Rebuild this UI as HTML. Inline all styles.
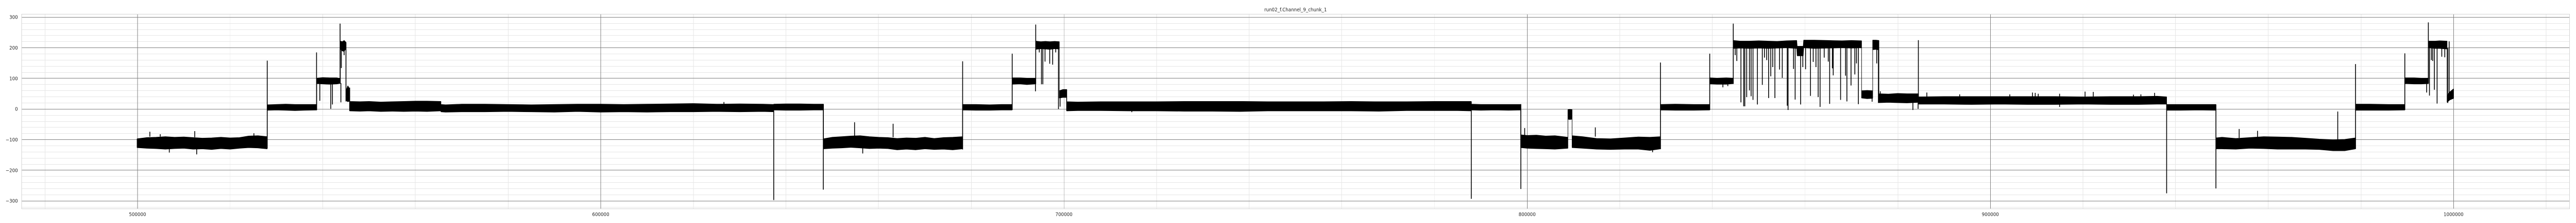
<!DOCTYPE html>
<html lang="en">
<head>
<meta charset="utf-8">
<title>run02_f.Channel_9_chunk_1</title>
<style>
html,body{margin:0;padding:0;background:#fff;width:100%;height:100%;overflow:hidden}
svg{display:block;width:100%;height:100%}
text{font-family:"DejaVu Sans","Liberation Sans",sans-serif;fill:#262626}
</style>
</head>
<body>
<svg id="chart" xmlns="http://www.w3.org/2000/svg" viewBox="0 0 5400 432" preserveAspectRatio="none">
  <rect x="0" y="0" width="5400" height="432" fill="#ffffff"/>
  <g id="grid-minor"></g>
  <g id="grid-major"></g>
  <g id="spines"></g>
  <g id="series"></g>
  <g id="y-labels"></g>
  <g id="x-labels"></g>
  <text x="2715.8" y="22" font-size="9.4" text-anchor="middle">run02_f.Channel_9_chunk_1</text>
</svg>
<script>
const xTicks = [500000, 600000, 700000, 800000, 900000, 1000000];
const xTickLabels = ['500000', '600000', '700000', '800000', '900000', '1000000'];
const xMinorTicks = [480000, 520000, 540000, 560000, 580000, 620000, 640000, 660000, 680000, 720000, 740000, 760000, 780000, 820000, 840000, 860000, 880000, 920000, 940000, 960000, 980000, 1020000];
const yTicks = [300, 200, 100, 0, -100, -200, -300];
const yTickLabels = ['300', '200', '100', '0', '\u2212100', '\u2212200', '\u2212300'];
const yMinorTicks = [280, 260, 240, 220, 180, 160, 140, 120, 80, 60, 40, 20, -20, -40, -60, -80, -120, -140, -160, -180, -220, -240, -260, -280, -320];

const sampleX = [
  499900,502000,504000,506000,508000,510000,512000,514000,516000,518000,520000,522000,524000,526000,528000,
  528000,530000,532000,534000,536000,538700,
  538700,540000,541500,543000,543800,
  543800,544200,544600,545000,
  545000,545400,545800,
  545800,548000,550000,552500,555000,557500,560000,562500,565500,
  565500,566500,570000,575000,580000,585000,590000,595000,600000,605000,610000,615000,620000,625000,630000,635000,637350,
  637350,640000,643000,646000,648100,
  648100,650000,652000,654000,656000,658000,660000,662000,664000,666000,668000,670000,672000,674000,676000,678100,
  678100,681000,684000,686500,688800,
  688800,690500,692000,693900,
  693900,695000,696000,697000,698000,699000,
  699000,699800,700600,
  700600,703000,708000,714000,720000,726000,732000,738000,744000,750000,756000,762000,768000,774000,780000,785000,787900,
  787900,790000,793000,796000,798600,
  798600,800000,802000,804000,806000,808800,
  808800,809200,809700,
  809700,812000,815000,818000,821000,824000,826500,828800,
  828800,832000,836000,839400,
  839400,841000,843000,844500,
  844500,846000,848000,850000,852000,854000,856000,858200,858300,859600,859700,862000,865000,868000,870000,872200,
  872200,873400,874600,
  874600,875300,875950,
  875950,878000,880000,882000,884500,
  884500,890000,896000,902000,908000,914000,920000,926000,932000,936000,938060,
  938060,941000,945000,948700,
  948700,950000,953000,956000,959000,962000,965000,968000,971000,974000,976500,978840,
  978840,982000,986000,989480,
  989480,991500,993000,994600,
  994600,996000,997000,998600,
  998600,999200,1000000
];
const upperEnvelope = [
  -97,-93,-92,-90,-92,-91,-93,-95,-94,-92,-94,-93,-88,-87,-90,
  14,15,16,15,15,15,
  101,103,102,102,100,
  222,220,224,218,
  60,76,66,
  25,24,25,23,24,25,26,26,25,
  15,14,16,16,15,14,15,16,16,15,16,17,18,16,17,16,15,
  16,17,17,16,16,
  -97,-92,-90,-88,-87,-90,-92,-93,-96,-94,-95,-92,-96,-93,-92,-90,
  15,15,14,15,15,
  102,102,101,101,
  222,220,221,220,221,220,
  60,64,64,
  24,23,24,24,24,25,25,25,24,24,24,25,24,24,25,25,25,
  16,15,15,15,15,
  -84,-86,-85,-88,-87,-92,
  -2,-1,-2,
  -87,-90,-96,-97,-94,-91,-92,-90,
  15,16,15,15,
  102,101,102,101,
  224,222,222,223,222,221,223,224,205,205,225,225,224,223,224,223,
  60,61,60,
  225,225,224,
  50,49,51,50,50,
  40,41,41,41,41,41,40,41,41,42,40,
  15,15,15,15,
  -94,-92,-96,-93,-90,-91,-92,-95,-98,-100,-99,-94,
  16,16,15,15,
  102,102,101,101,
  222,222,223,222,
  45,56,66
];
const lowerEnvelope = [
  -126,-128,-129,-131,-129,-128,-131,-130,-132,-129,-131,-128,-126,-127,-130,
  -4,-3,-4,-5,-4,-3,
  83,82,81,82,84,
  196,190,188,198,
  28,24,26,
  -6,-7,-6,-8,-7,-8,-7,-8,-6,
  -9,-10,-9,-9,-8,-9,-10,-8,-10,-9,-10,-9,-9,-8,-9,-8,-9,
  -3,-4,-4,-3,-3,
  -130,-128,-127,-125,-127,-129,-128,-129,-133,-131,-133,-130,-132,-131,-133,-130,
  -3,-4,-4,-3,-3,
  81,82,80,82,
  195,197,196,195,197,196,
  36,38,38,
  -6,-5,-5,-6,-6,-7,-7,-8,-6,-6,-6,-6,-7,-5,-5,-5,-6,
  -3,-4,-3,-4,-3,
  -126,-128,-129,-130,-131,-128,
  -33,-34,-33,
  -126,-128,-131,-132,-131,-131,-135,-130,
  -3,-4,-4,-3,
  82,81,81,83,
  198,199,198,199,198,199,200,198,174,174,200,198,199,200,199,200,
  36,34,35,
  194,195,193,
  21,22,21,20,22,
  16,16,15,16,15,15,16,15,15,16,16,
  -4,-4,-3,-4,
  -130,-130,-131,-128,-129,-131,-131,-131,-132,-136,-136,-130,
  -4,-4,-4,-3,
  83,82,82,83,
  200,198,198,196,
  22,30,35
];

const spikeX = [
  528000,538650,539350,541720,542080,543900,543730,544000,544600,545000,545800,
  502660,504900,506860,512350,512770,525120,
  626600,637350,648050,654800,656560,663120,678130,688830,693850,693910,
  698820,699170,700590,714650,
  787940,798640,799470,814720,827080,828780,839420,842260,843320,844500,
  874470,875470,875830,876240,883280,884400,884460,886290,893380,904200,909100,909690,910340,914950,914950,920450,922220,930900,932500,935460,
  938060,948700,953720,957680,975000,978840,989480,994200,994560,998760,999050
];
const spikeFrom = [
  -128,-3,85,85,85,85,85,200,195,218,70,
  -90,-90,-128,-92,-128,-90,
  15,-5,16,-90,-128,-92,-132,-3,82,82,
  220,40,64,-6,
  25,16,-85,-90,-130,-131,-3,82,82,82,
  60,195,195,50,21,21,40,41,41,41,41,41,41,41,16,41,41,41,41,41,
  16,15,-94,-92,-100,-130,-3,85,85,200,40
];
const spikeTo = [
  158,185,27,1,15,22,279,134,176,25,-6,
  -74,-82,-142,-72,-148,-79,
  23,-297,-263,-43,-145,-48,156,181,58,276,
  0,8,-6,-10,
  -293,-261,-62,-60,-141,152,181,71,75,279,
  24,149,20,58,-3,1,225,54,48,48,54,53,50,50,7,57,56,47,48,53,
  -275,-259,-65,-71,-8,147,182,54,283,20,221
];

const dipX = [
  694680,695150,695450,695920,696930,697570,698230,
  844920,845270,846160,846750,846990,847400,847990,848350,848760,849710,850770,851240,851720,852130,852600,853020,853490,854490,855080,856150,856330,857510,857860,859040,859520,860110,861170,861760,862350,862830,863240,864130,865010,865310,865900,866080,867670,868740,869030,869920,870750,871100,871510,
  994800,995210,995500,995860,996450,997460,998110
];
const dipTo = [
  185,81,81,155,148,145,185,
  176,157,22,9,9,39,61,42,30,15,79,168,160,36,107,137,36,129,102,11,-3,131,31,15,137,130,43,154,137,39,7,168,155,17,133,110,30,109,25,77,113,149,16,
  44,160,157,63,18,171,169
];

const SVG_NS = 'http://www.w3.org/2000/svg';
function xScale(v) { return 288.3 + (v - 500000) * 0.00971; }
function yScale(v) { return 211.3 - v * 0.5933; }
function snap(p) { return Math.floor(p) + 0.5; }
const AX_L = 45.5, AX_R = 5386.5, AX_T = 27.5, AX_B = 404.5;

function makeLine(x1, y1, x2, y2, color, width, crisp) {
  const l = document.createElementNS(SVG_NS, 'line');
  l.setAttribute('x1', x1);
  l.setAttribute('y1', y1);
  l.setAttribute('x2', x2);
  l.setAttribute('y2', y2);
  l.setAttribute('stroke', color);
  l.setAttribute('stroke-width', width);
  if (crisp) l.setAttribute('shape-rendering', 'crispEdges');
  return l;
}

const gMinor = document.getElementById('grid-minor');
const gMajor = document.getElementById('grid-major');
const gSpines = document.getElementById('spines');
const gSeries = document.getElementById('series');
const gY = document.getElementById('y-labels');
const gX = document.getElementById('x-labels');

xMinorTicks.forEach(function (t) {
  const p = snap(xScale(t));
  const l = makeLine(p, AX_T, p, AX_B, '#e6e6e6', 1, true);
  
  
  gMinor.appendChild(l);
});
yMinorTicks.forEach(function (t) {
  const p = snap(yScale(t));
  const l = makeLine(AX_L, p, AX_R, p, '#e6e6e6', 1, true);
  
  
  gMinor.appendChild(l);
});
xTicks.forEach(function (t, i) {
  const p = snap(xScale(t));
  const l = makeLine(p, AX_T, p, AX_B, '#808080', 1, true);
  
  
  gMajor.appendChild(l);
  const txt = document.createElementNS(SVG_NS, 'text');
  
  
  txt.setAttribute('x', xScale(t));
  txt.setAttribute('y', 418.5);
  txt.setAttribute('font-size', '9.4');
  txt.setAttribute('text-anchor', 'middle');
  txt.textContent = xTickLabels[i];
  gX.appendChild(txt);
});
yTicks.forEach(function (t, i) {
  const p = snap(yScale(t));
  const l = makeLine(AX_L, p, AX_R, p, '#808080', 1, true);
  
  
  gMajor.appendChild(l);
  const txt = document.createElementNS(SVG_NS, 'text');
  
  
  txt.setAttribute('x', 37.5);
  txt.setAttribute('y', yScale(t) + 3.4);
  txt.setAttribute('font-size', '9.4');
  txt.setAttribute('text-anchor', 'end');
  txt.textContent = yTickLabels[i];
  gY.appendChild(txt);
});

const frame = document.createElementNS(SVG_NS, 'rect');


frame.setAttribute('x', AX_L);
frame.setAttribute('y', AX_T);
frame.setAttribute('width', AX_R - AX_L);
frame.setAttribute('height', AX_B - AX_T);
frame.setAttribute('fill', 'none');
frame.setAttribute('stroke', '#d3d3d3');
frame.setAttribute('stroke-width', '1');
frame.setAttribute('shape-rendering', 'crispEdges');
gSpines.appendChild(frame);

let d = '';
for (let i = 0; i < sampleX.length; i++) {
  d += (i === 0 ? 'M' : 'L') + xScale(sampleX[i]).toFixed(2) + ' ' + yScale(upperEnvelope[i]).toFixed(2);
}
for (let i = sampleX.length - 1; i >= 0; i--) {
  d += 'L' + xScale(sampleX[i]).toFixed(2) + ' ' + yScale(lowerEnvelope[i]).toFixed(2);
}
d += 'Z';
const band = document.createElementNS(SVG_NS, 'path');


band.setAttribute('d', d);
band.setAttribute('fill', '#000000');
band.setAttribute('stroke', '#000000');
band.setAttribute('stroke-width', '1');
band.setAttribute('stroke-linejoin', 'bevel');
gSeries.appendChild(band);

spikeX.forEach(function (s, i) {
  const p = xScale(s);
  const l = makeLine(p, yScale(spikeFrom[i]), p, yScale(spikeTo[i]), '#000000', 1.7, false);
  
  
  gSeries.appendChild(l);
});
dipX.forEach(function (s, i) {
  const p = xScale(s);
  const l = makeLine(p, yScale(205), p, yScale(dipTo[i]), '#000000', 1.7, false);
  
  
  gSeries.appendChild(l);
});
</script>
</body>
</html>
